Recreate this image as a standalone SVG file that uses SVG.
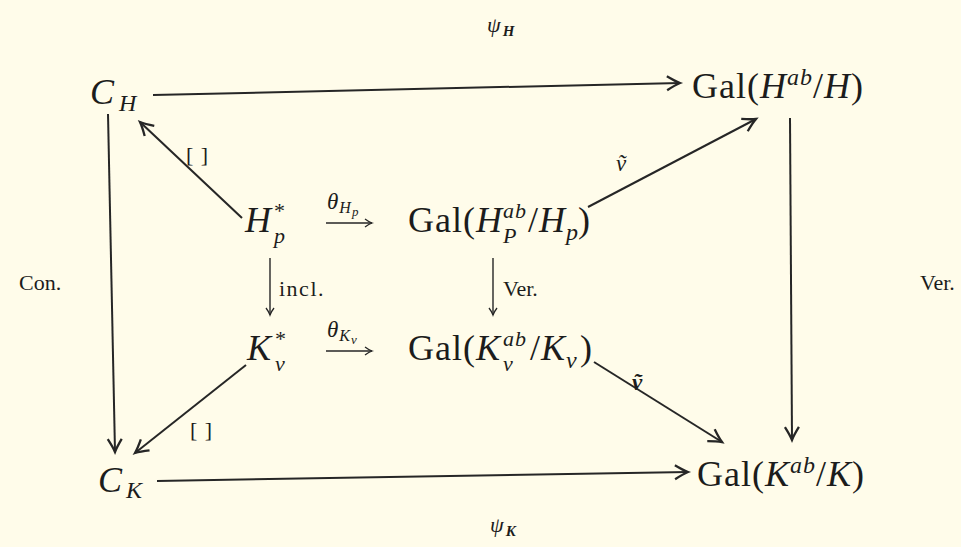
<svg xmlns="http://www.w3.org/2000/svg" width="961" height="547" viewBox="0 0 961 547">
<defs>
<style>
.t{font-family:"Liberation Serif","DejaVu Serif",serif;fill:#1c1c1c}
.i{font-style:italic}
.big{font-size:36px;letter-spacing:1px}
.sm{font-size:24px;letter-spacing:1px}
.ss{font-size:22px;letter-spacing:1px}
.lab{font-size:22px}
.ln{stroke:#262626;fill:none;stroke-width:2}
.sl{stroke:#262626;fill:none;stroke-width:1.4}
</style>
<marker id="ah" markerUnits="userSpaceOnUse" markerWidth="30" markerHeight="30" viewBox="-15 -15 30 30" refX="0" refY="0" orient="auto">
<path d="M-13,-7 Q-5,-2 0,0 Q-5,2 -13,7" fill="none" stroke="#262626" stroke-width="2.3"/>
</marker>
<marker id="sh" markerUnits="userSpaceOnUse" markerWidth="20" markerHeight="20" viewBox="-10 -10 20 20" refX="0" refY="0" orient="auto">
<path d="M-7,-4 Q-3,-1 0,0 Q-3,1 -7,4" fill="none" stroke="#262626" stroke-width="1.3"/>
</marker>
</defs>
<rect x="0" y="0" width="961" height="547" fill="#fffcea"/>

<g id="connectors">
<line class="ln" x1="153" y1="95" x2="680" y2="83" marker-end="url(#ah)"/>
<line class="ln" x1="157" y1="481" x2="688" y2="472" marker-end="url(#ah)"/>
<line class="ln" x1="108" y1="114" x2="115" y2="452" marker-end="url(#ah)"/>
<line class="ln" x1="790" y1="118" x2="792" y2="440" marker-end="url(#ah)"/>
<line class="ln" x1="242" y1="218" x2="140" y2="122" marker-end="url(#ah)"/>
<line class="ln" x1="246" y1="365" x2="135" y2="453" marker-end="url(#ah)"/>
<line class="ln" x1="588" y1="207" x2="756" y2="119" marker-end="url(#ah)"/>
<line class="ln" x1="594" y1="362" x2="722" y2="442" marker-end="url(#ah)"/>
<line class="sl" x1="326" y1="223" x2="372" y2="223" marker-end="url(#sh)"/>
<line class="sl" x1="326" y1="351" x2="372" y2="351" marker-end="url(#sh)"/>
<line class="sl" x1="270" y1="258" x2="270" y2="315" marker-end="url(#sh)"/>
<line class="sl" x1="493" y1="258" x2="493" y2="315" marker-end="url(#sh)"/>
</g>

<g id="edge-labels">
<text class="t i" x="487" y="32" font-size="22">ψ<tspan font-size="15" font-weight="bold" dx="2" dy="4">H</tspan></text>
<text class="t i" x="490" y="532" font-size="22">ψ<tspan font-size="15" font-weight="bold" dx="2" dy="4">K</tspan></text>
<text class="t lab" x="186" y="162" letter-spacing="1">[ ]</text>
<text class="t lab" x="190" y="437" letter-spacing="1">[ ]</text>
<text class="t lab" x="19" y="290">Con.</text>
<text class="t lab" x="920" y="290">Ver.</text>
<text class="t lab" x="279" y="296" font-size="23" letter-spacing="1.5">incl.</text>
<text class="t lab" x="503" y="296">Ver.</text>
<text class="t i" x="327" y="209" font-size="23">θ<tspan font-size="16" dx="1" dy="4">H</tspan><tspan font-size="13" dx="1" dy="3">p</tspan></text>
<text class="t i" x="327" y="337" font-size="23">θ<tspan font-size="16" dx="1" dy="4">K</tspan><tspan font-size="13" dx="1" dy="3">v</tspan></text>
<text class="t i" x="616" y="171" font-size="23">v&#x303;</text>
<text class="t i" x="632" y="390" font-size="23" font-weight="bold">v&#x303;</text>
</g>

<g id="CH">
<text class="t i big" x="90" y="104">C<tspan class="sm" x="119" y="111">H</tspan></text>
</g>

<g id="GalH">
<text class="t big" x="692" y="98">Gal(<tspan class="i">H</tspan><tspan class="i sm" dy="-13">ab</tspan><tspan dy="13">/</tspan><tspan class="i">H</tspan>)</text>
</g>

<g id="Hp">
<text class="t i big" x="245" y="232">H<tspan class="ss" font-style="normal" x="274" y="218">*</tspan><tspan class="ss" x="274" y="243">p</tspan></text>
</g>

<g id="GalHp">
<text class="t big" x="408" y="232">Gal(<tspan class="i">H</tspan><tspan class="i ss" x="503" y="218">ab</tspan><tspan class="i ss" x="503" y="243">P</tspan><tspan x="528" y="232">/</tspan><tspan class="i">H</tspan><tspan class="i sm" x="566" y="240">p</tspan><tspan x="578" y="232">)</tspan></text>
</g>

<g id="Kv">
<text class="t i big" x="247" y="360">K<tspan class="ss" font-style="normal" x="275" y="346">*</tspan><tspan class="ss" x="275" y="371">v</tspan></text>
</g>

<g id="GalKv">
<text class="t big" x="408" y="360">Gal(<tspan class="i">K</tspan><tspan class="i ss" x="503" y="346">ab</tspan><tspan class="i ss" x="503" y="371">v</tspan><tspan x="530" y="360">/</tspan><tspan class="i">K</tspan><tspan class="i sm" x="566" y="368">v</tspan><tspan x="580" y="360">)</tspan></text>
</g>

<g id="CK">
<text class="t i big" x="98" y="492">C<tspan class="sm" x="126" y="498">K</tspan></text>
</g>

<g id="GalK">
<text class="t big" x="697" y="486">Gal(<tspan class="i">K</tspan><tspan class="i sm" dy="-13">ab</tspan><tspan dy="13">/</tspan><tspan class="i">K</tspan>)</text>
</g>
</svg>
